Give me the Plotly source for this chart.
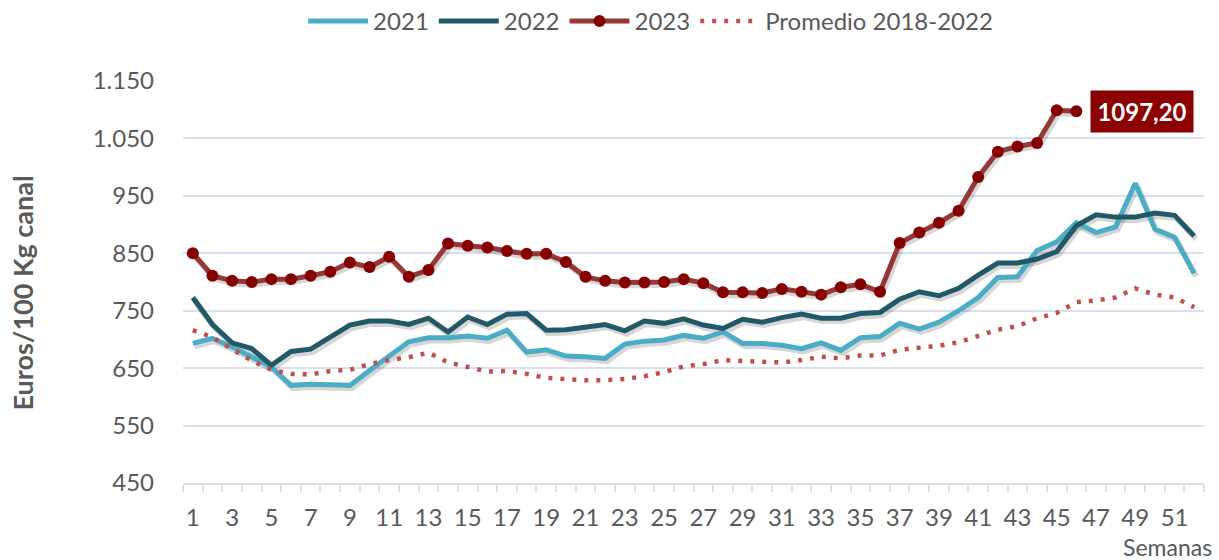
import plotly.graph_objects as go

weeks = list(range(1, 53))
weeks_2023 = list(range(1, 47))

y2021 = [693, 702, 687, 670, 652, 620, 622, 621, 620, 646,
         671, 696, 703, 703, 706, 702, 716, 678, 682, 671,
         670, 667, 692, 697, 699, 707, 702, 713, 693, 693,
         690, 684, 694, 681, 703, 705, 728, 718, 730, 750,
         773, 808, 809, 855, 870, 903, 886, 896, 972, 892,
         878, 815]
y2022 = [773, 726, 694, 684, 655, 679, 683, 703, 725, 732,
         732, 726, 737, 713, 739, 726, 744, 745, 716, 717,
         722, 726, 715, 732, 728, 736, 725, 719, 735, 730,
         738, 744, 737, 737, 745, 747, 770, 783, 776, 789,
         812, 833, 833, 840, 853, 898, 917, 913, 913, 920,
         916, 880]
y2023 = [850, 811, 802, 800, 805, 805, 811, 818, 834, 826,
         844, 809, 821, 867, 863, 860, 854, 849, 849, 835,
         809, 802, 799, 799, 800, 805, 798, 782, 782, 781,
         788, 783, 778, 791, 796, 783, 868, 886, 903, 924,
         983, 1027, 1036, 1042, 1099, 1097.2]
promedio = [716, 704, 683, 663, 647, 640, 639, 645, 647, 657,
            664, 669, 677, 660, 652, 644, 645, 640, 633, 631,
            629, 629, 631, 636, 643, 653, 657, 664, 662, 661,
            660, 664, 670, 667, 672, 672, 682, 686, 689, 695,
            705, 717, 723, 737, 746, 765, 768, 773, 789, 778,
            773, 756]

y_ticks = [450, 550, 650, 750, 850, 950, 1050, 1150]
y_ticktext = ["450", "550", "650", "750", "850", "950", "1.050", "1.150"]
x_ticks = list(range(1, 52, 2))
last_label = "1097,20"

FONT = "Lato"
GRAY = "#595959"
GRID = "#D6E0F0"
C2021 = "#4BACC6"
C2022 = "#215968"
C2023_LINE = "#953735"
C2023_MARK = "#850000"
CPROM = "#C0504D"
SHADOW = "rgba(0,0,0,0.16)"

XR = [0.5, 52.5]
YR = [450, 1150]

fig = go.Figure()

# shadows (on a slightly shifted hidden axis pair)
for yy, xx in [(y2021, weeks), (y2022, weeks), (y2023, weeks_2023)]:
    fig.add_trace(go.Scatter(x=xx, y=yy, mode="lines", xaxis="x2", yaxis="y2",
                             line=dict(color=SHADOW, width=6), showlegend=False,
                             hoverinfo="skip"))

fig.add_trace(go.Scatter(x=weeks, y=y2021, name="2021", mode="lines",
                         xaxis="x3", yaxis="y3",
                         line=dict(color=C2021, width=5)))
fig.add_trace(go.Scatter(x=weeks, y=y2022, name="2022", mode="lines",
                         xaxis="x3", yaxis="y3",
                         line=dict(color=C2022, width=5)))
fig.add_trace(go.Scatter(x=weeks_2023, y=y2023, name="2023", mode="lines+markers",
                         xaxis="x3", yaxis="y3",
                         line=dict(color=C2023_LINE, width=5),
                         marker=dict(color=C2023_MARK, size=12)))
fig.add_trace(go.Scatter(x=weeks, y=promedio, name="Promedio 2018-2022", mode="lines",
                         xaxis="x3", yaxis="y3",
                         line=dict(color=CPROM, width=4.5, dash="4px,8px")))

fig.update_layout(
    width=1219, height=560,
    margin=dict(l=183, r=15, t=81, b=77, autoexpand=False),
    paper_bgcolor="white", plot_bgcolor="white",
    font=dict(family=FONT, color=GRAY, size=24),
    xaxis=dict(range=XR, tickvals=x_ticks, ticks="", showgrid=False,
               showline=True, linecolor=GRID, linewidth=1.5,
               tickfont=dict(size=24, color=GRAY), ticklabelstandoff=12,
               minor=dict(ticks="outside", tick0=0.5, dtick=1, ticklen=7,
                          tickcolor=GRID, tickwidth=1.5, showgrid=False),
               zeroline=False, automargin=False),
    yaxis=dict(range=YR, tickvals=y_ticks, ticktext=y_ticktext,
               showgrid=True, gridcolor=GRID, gridwidth=1.5, zeroline=False,
               showline=False, ticks="", tickfont=dict(size=24, color=GRAY),
               ticklabelstandoff=28, automargin=False),
    xaxis2=dict(range=[XR[0] - 0.1, XR[1] - 0.1], overlaying="x", visible=False),
    yaxis2=dict(range=[YR[0] + 5, YR[1] + 5], overlaying="y", visible=False),
    xaxis3=dict(range=XR, overlaying="x", visible=False),
    yaxis3=dict(range=YR, overlaying="y", visible=False),
    legend=dict(orientation="h", x=0.458, xanchor="center", y=1.148, yanchor="middle",
                font=dict(size=24, color=GRAY), bgcolor="rgba(0,0,0,0)",
                itemwidth=60, tracegroupgap=0),
    showlegend=True,
    annotations=[
        dict(x=weeks_2023[-1], y=y2023[-1], xref="x", yref="y",
             text="<b>" + last_label + "</b>", showarrow=False,
             xanchor="left", yanchor="middle", xshift=14,
             bgcolor="#8B0000", font=dict(color="white", size=24, family=FONT),
             borderpad=6, width=90),
        dict(x=-0.157, y=0.473, xref="paper", yref="paper",
             text="<b>Euros/100 Kg canal</b>", textangle=-90, showarrow=False,
             font=dict(size=27, color=GRAY, family=FONT),
             xanchor="center", yanchor="middle"),
        dict(x=0.964, y=-0.16, xref="paper", yref="paper",
             text="Semanas", showarrow=False,
             font=dict(size=23, color=GRAY, family=FONT),
             xanchor="center", yanchor="middle"),
    ],
)

fig.write_html("out.html", config={"displayModeBar": False},
               post_script="document.body.style.margin='0';document.body.style.overflow='hidden';")
